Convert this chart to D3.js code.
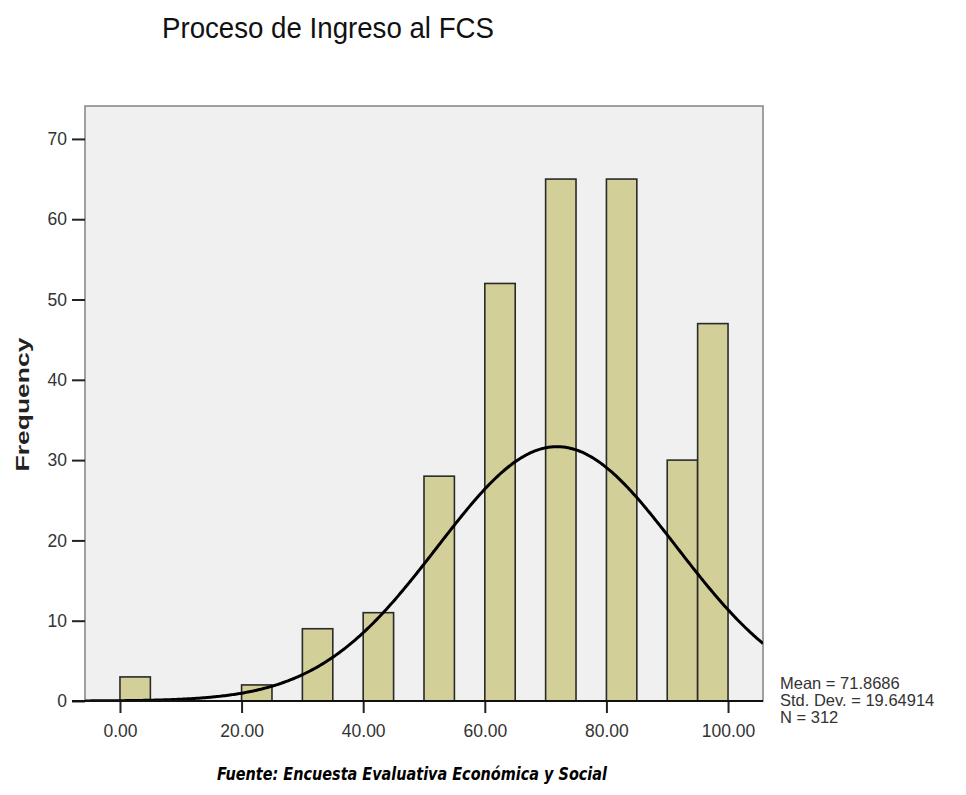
<!DOCTYPE html>
<html><head><meta charset="utf-8">
<script src="https://cdn.jsdelivr.net/npm/d3@7"></script>
<style>body{margin:0;background:#fff;} svg{display:block;}</style>
</head><body>
<svg id="c" width="966" height="795"></svg>
<script>
// ---- data ----
const binStarts = [0, 20, 30, 40, 50, 60, 70, 80, 90, 95];
const binWidth = 5;
const counts = [3, 2, 9, 11, 28, 52, 65, 65, 30, 47];
const yTicks = [0, 10, 20, 30, 40, 50, 60, 70];
const xTicks = [0, 20, 40, 60, 80, 100];
const stats = {mean: 71.8686, sd: 19.64914, n: 312};
const legendLines = ["Mean = 71.8686", "Std. Dev. = 19.64914", "N = 312"];
const title = "Proceso de Ingreso al FCS";
const yLabel = "Frequency";
const footer = "Fuente: Encuesta Evaluativa Económica y Social";

const svg = d3.select("#c");
const L = 85, R = 763, T = 106, B = 701;
const x = d3.scaleLinear().domain([-5.75, 105.75]).range([L, R]);
const y = d3.scaleLinear().domain([0, 74.1]).range([B, T]);
const FONT = "Liberation Sans, Arial, sans-serif";

svg.append("text").attr("x", 162).attr("y", 38).attr("font-family", FONT)
  .attr("font-size", 30).attr("fill", "#111").attr("textLength", 332).attr("lengthAdjust","spacingAndGlyphs").text(title);

// frame
svg.append("rect").attr("x", L).attr("y", T).attr("width", R - L).attr("height", B - T)
  .attr("fill", "#f0f0f0").attr("stroke", "#8a8a8a").attr("stroke-width", 1.6);

// bars
svg.append("g").selectAll("rect").data(binStarts).join("rect")
  .attr("x", (d) => x(d)).attr("width", (d) => x(d + binWidth) - x(d))
  .attr("y", (d, i) => y(counts[i])).attr("height", (d, i) => y(0) - y(counts[i]))
  .attr("fill", "#d3cf98").attr("stroke", "#2a2a2a").attr("stroke-width", 1.6);

// normal curve (fitted from the stated mean / std. dev. / N)
const pts = d3.range(-5.75, 105.76, 0.25).map(v => {
  const z = (v - stats.mean) / stats.sd;
  return [v, stats.n * binWidth / (stats.sd * Math.sqrt(2 * Math.PI)) * Math.exp(-0.5 * z * z)];
});
svg.append("defs").append("clipPath").attr("id", "clip").append("rect")
  .attr("x", L).attr("y", T).attr("width", R - L).attr("height", B - T);
svg.append("path").datum(pts).attr("clip-path", "url(#clip)")
  .attr("d", d3.line().x(d => x(d[0])).y(d => y(d[1])).curve(d3.curveBasis))
  .attr("fill", "none").attr("stroke", "#000").attr("stroke-width", 3);

// axes
const yAxis = svg.append("g").attr("transform", `translate(${L},0)`)
  .call(d3.axisLeft(y).tickValues(yTicks).tickSize(13).tickPadding(5).tickFormat(d3.format("d")));
yAxis.select(".domain").remove();
yAxis.selectAll("line").attr("stroke", "#222").attr("stroke-width", 2);
yAxis.selectAll("text").attr("font-family", FONT).attr("font-size", 17.5).attr("fill", "#333");

const xAxis = svg.append("g").attr("transform", `translate(0,${B})`)
  .call(d3.axisBottom(x).tickValues(xTicks).tickSize(12).tickPadding(12).tickFormat(d3.format(".2f")));
xAxis.select(".domain").remove();
xAxis.selectAll("line").attr("stroke", "#222").attr("stroke-width", 2);
xAxis.selectAll("text").attr("font-family", FONT).attr("font-size", 17.5).attr("fill", "#333");

svg.append("line").attr("x1", 72).attr("x2", R).attr("y1", B).attr("y2", B)
  .attr("stroke", "#111").attr("stroke-width", 2.2);

svg.append("text").attr("transform", `translate(29,${(337 + 472) / 2}) rotate(-90)`)
  .attr("text-anchor", "middle").attr("font-family", FONT)
  .attr("font-weight", "bold").attr("font-size", 18).attr("fill", "#222")
  .attr("textLength", 134).attr("lengthAdjust", "spacingAndGlyphs").text(yLabel);

svg.append("g").selectAll("text").data(legendLines).join("text")
  .attr("x", 780).attr("y", (d, i) => 689 + i * 17)
  .attr("font-family", FONT).attr("font-size", 16.5).attr("fill", "#333")
  .text(d => d);

svg.append("text").attr("x", 217).attr("y", 780)
  .attr("font-family", "DejaVu Sans, sans-serif").attr("font-style", "italic").attr("font-weight", "bold")
  .attr("font-size", 17).attr("fill", "#000").attr("textLength", 390).attr("lengthAdjust", "spacingAndGlyphs").text(footer);
</script>
</body></html>
